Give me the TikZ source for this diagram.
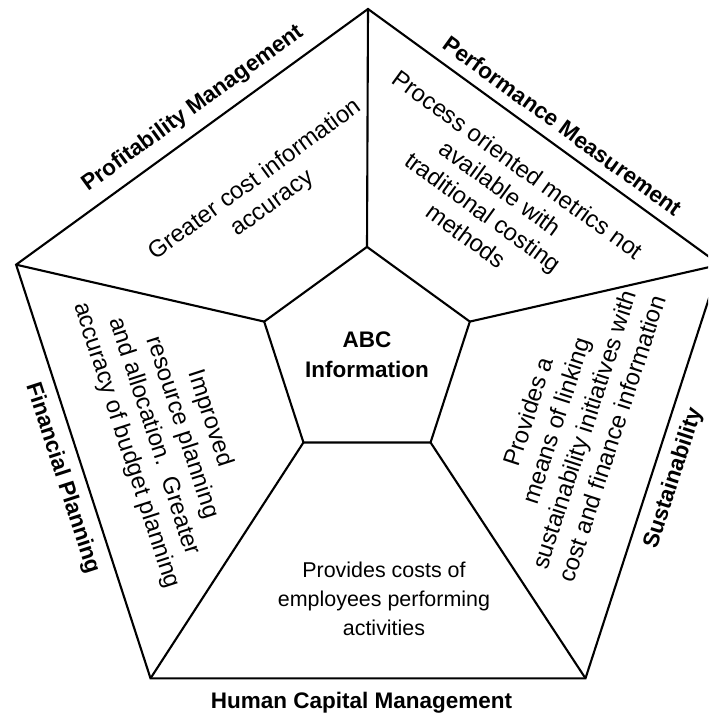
\documentclass[tikz,border=0pt]{standalone}
\usepackage{fontspec}
\setmainfont{Liberation Sans}
\usetikzlibrary{shapes.geometric}

\tikzset{
  txt/.style={font=\fontsize{13.6}{16.7}\selectfont, align=center, inner sep=0pt},
  small txt/.style={txt, font=\fontsize{12.2}{16.5}\selectfont},
  lbl/.style={font=\fontsize{12.8}{17}\selectfont\bfseries, inner sep=0pt},
  pent/.style={regular polygon, regular polygon sides=5, draw,
      inner sep=0pt, outer sep=0pt},
}

\begin{document}
\begin{tikzpicture}[line width=1.2pt]
  \useasboundingbox (0,0) rectangle (14.16,-14.26);
  \clip (0,0) rectangle (14.16,-14.26);

  % the two pentagons, corner 1 on top
  \node[pent, minimum size=14.8cm] (outer) at (7.36,-7.58) {};
  \node[pent, minimum size=4.32cm, align=center,
      font=\fontsize{12.8}{17}\selectfont\bfseries] (inner) at (7.34,-7.10) {ABC\\Information};

  \foreach \i in {1,...,5}
    \draw (inner.corner \i) -- (outer.corner \i);

  % names of the five areas, on the outer edges
  \path
    (outer.corner 2) -- (outer.corner 1)
      node[lbl, pos=0.54, sloped, above=6pt] (prof) {Profitability Management}
    (outer.corner 1) -- (outer.corner 5)
      node[lbl, pos=0.52, sloped, above=6pt] (perf) {Performance Measurement}
    (outer.corner 5) -- (outer.corner 4)
      node[lbl, midway, sloped, below=6pt] (sus) {Sustainability}
    (outer.corner 3) -- (outer.corner 4)
      node[lbl, midway, below=7pt, xshift=-0.13cm] (hcm) {Human Capital Management}
    (outer.corner 2) -- (outer.corner 3)
      node[lbl, midway, sloped, below=6pt] (fin) {Financial Planning};

  % what each area gets out of it
  \node[txt, rotate=36]  (acc)  at (5.28,-3.84) {Greater cost information\\accuracy};
  \node[txt, rotate=-36] (metr) at (9.84,-4.00) {Process oriented metrics not\\available with\\traditional costing\\methods};
  \node[txt, rotate=72]  (link) at (11.40,-8.50) {Provides a\\means of linking\\sustainability initiatives with\\cost and finance information};
  \node[small txt]       (empl) at (7.68,-11.98) {Provides costs of\\employees performing\\activities};
  \node[txt, rotate=-72] (budg) at (3.36,-8.64) {Improved\\resource planning\\and allocation.\ \ Greater\\accuracy of budget planning};
\end{tikzpicture}
\end{document}
